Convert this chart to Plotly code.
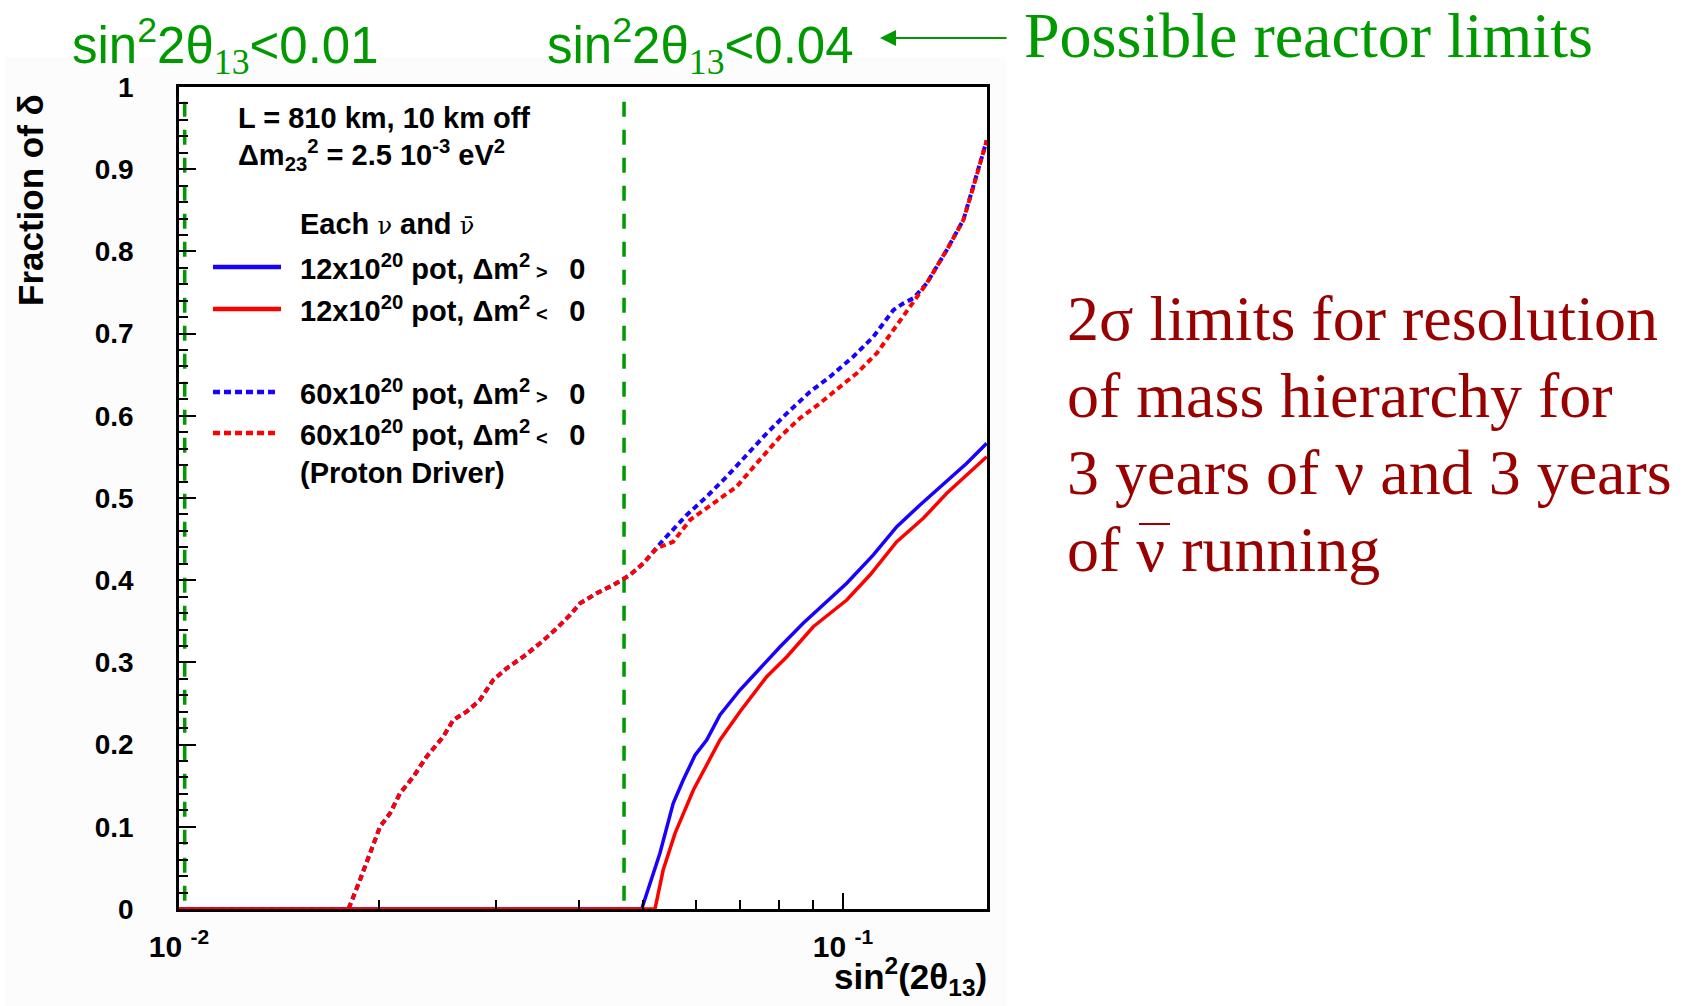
import plotly.graph_objects as go

# ---------------- data ----------------
# 60x10^20 pot, dm^2 < 0 (red dotted)
x_dot_red = [0.0100, 0.0180, 0.01873, 0.0194, 0.02008, 0.02079, 0.02152, 0.02254, 0.0236, 0.0250,
             0.02588, 0.02711, 0.02839, 0.02973, 0.03115, 0.0330, 0.03497, 0.03706, 0.03881, 0.04018,
             0.04256, 0.04509, 0.04777, 0.05004, 0.05241, 0.0555, 0.05883, 0.06379, 0.06915, 0.07413,
             0.0804, 0.0861, 0.0923, 0.0990, 0.1049, 0.1124, 0.1191, 0.1262, 0.1337, 0.1433,
             0.1518, 0.1572, 0.1636, 0.1646]
y_dot_red = [0.0, 0.0, 0.0353, 0.0678, 0.1001, 0.1164, 0.1407, 0.161, 0.1853, 0.2096,
             0.2299, 0.2400, 0.2543, 0.2786, 0.2928, 0.3069, 0.3232, 0.3415, 0.3577, 0.3719,
             0.3841, 0.3942, 0.4063, 0.4206, 0.4388, 0.4468, 0.4732, 0.4935, 0.5137, 0.5422,
             0.5746, 0.5970, 0.6152, 0.6354, 0.6517, 0.6760, 0.7044, 0.7327, 0.7612, 0.8017,
             0.8382, 0.8787, 0.9274, 0.9350]

# 60x10^20 pot, dm^2 > 0 (blue dotted)
x_dot_blue = [0.0100, 0.0180, 0.01873, 0.0194, 0.02008, 0.02079, 0.02152, 0.02254, 0.0236, 0.0250,
              0.02588, 0.02711, 0.02839, 0.02973, 0.03115, 0.0330, 0.03497, 0.03706, 0.03881, 0.04018,
              0.04256, 0.04509, 0.04777, 0.05004, 0.05362, 0.05816, 0.06233, 0.06679, 0.07157, 0.07675,
              0.0823, 0.0892, 0.0956, 0.1036, 0.1111, 0.1191, 0.1233, 0.1276, 0.1337, 0.1433,
              0.1518, 0.1572, 0.1636, 0.1646]
y_dot_blue = [0.0, 0.0, 0.0353, 0.0678, 0.1001, 0.1164, 0.1407, 0.161, 0.1853, 0.2096,
              0.2299, 0.2400, 0.2543, 0.2786, 0.2928, 0.3069, 0.3232, 0.3415, 0.3577, 0.3719,
              0.3841, 0.3942, 0.4063, 0.4206, 0.4489, 0.4793, 0.5016, 0.5259, 0.5523, 0.5787,
              0.6030, 0.6293, 0.6476, 0.6719, 0.6962, 0.7287, 0.7368, 0.7430, 0.7612, 0.8017,
              0.8382, 0.8787, 0.9274, 0.9350]

# 12x10^20 pot, dm^2 > 0 (blue solid)
x_sol_blue = [0.0100, 0.04975, 0.0530, 0.0555, 0.05746, 0.05986, 0.06233, 0.06527, 0.06995, 0.0750,
              0.0804, 0.0871, 0.0945, 0.1013, 0.1111, 0.1205, 0.1306, 0.1433, 0.1536, 0.1646]
y_sol_blue = [0.0, 0.0, 0.0678, 0.1286, 0.157, 0.187, 0.2056, 0.236, 0.2664, 0.2928,
              0.319, 0.3476, 0.3739, 0.3962, 0.4307, 0.4651, 0.4915, 0.5198, 0.5422, 0.5665]

# 12x10^20 pot, dm^2 < 0 (red solid)
x_sol_red = [0.0100, 0.0521, 0.0536, 0.05585, 0.05952, 0.06527, 0.06995, 0.07675, 0.0823, 0.0902,
             0.1013, 0.1098, 0.1205, 0.1321, 0.1433, 0.1536, 0.1646]
y_sol_red = [0.0, 0.0, 0.0474, 0.092, 0.1448, 0.2056, 0.2400, 0.2826, 0.3069, 0.3434,
             0.3759, 0.4063, 0.4468, 0.4753, 0.5057, 0.5280, 0.5502]

# possible reactor limits (vertical dashed lines)
reactor_x = [0.0102, 0.0468]
reactor_y = [0.01, 0.985]
SUB13 = "<sub style=\"font-family:Liberation Serif\">13</sub>"
reactor_labels = ["sin<sup>2</sup>2θ" + SUB13 + "&lt;0.01",
                  "sin<sup>2</sup>2θ" + SUB13 + "&lt;0.04"]

x_tickvals = [0.01, 0.1]
x_ticktext = ["10 <sup>-2</sup>", "10 <sup>-1</sup>"]
x_minor_ticks = [0.02, 0.03, 0.04, 0.05, 0.06, 0.07, 0.08, 0.09]

legend_entries = [
    "12x10<sup>20</sup> pot, Δm<sup>2</sup><span style=\"font-size:20px\"> &gt; </span>  0",
    "12x10<sup>20</sup> pot, Δm<sup>2</sup><span style=\"font-size:20px\"> &lt; </span>  0",
    "60x10<sup>20</sup> pot, Δm<sup>2</sup><span style=\"font-size:20px\"> &gt; </span>  0",
    "60x10<sup>20</sup> pot, Δm<sup>2</sup><span style=\"font-size:20px\"> &lt; </span>  0",
]
side_lines = ["2σ limits for resolution",
              "of mass hierarchy for",
              "3 years of ν and 3 years",
              "of ν running"]

# ---------------- styling ----------------
W, H = 1694, 1006
L, R, T, B = 179, 707, 87, 97
PW, PH = W - L - R, H - T - B
DEC = 664.0  # px per decade
x_range = [-2, -2 + PW / DEC]

BLUE = "#1a00ff"
RED = "#ff0000"
GREEN = "#009900"
DARKRED = "#990000"
SANS = "Liberation Sans, Arial, sans-serif"
SERIF = "Liberation Serif, Times New Roman, serif"


def fx(px):
    return (px - L) / PW


def fy(py):
    return (H - B - py) / PH


fig = go.Figure()

for xv in reactor_x:
    fig.add_trace(go.Scatter(x=[xv, xv], y=reactor_y, mode="lines",
                             line=dict(color=GREEN, width=3.5, dash="15px,13px"),
                             showlegend=False, hoverinfo="skip"))

fig.add_trace(go.Scatter(x=x_dot_blue, y=y_dot_blue, mode="lines",
                         line=dict(color=BLUE, width=4, dash="6px,4px"), showlegend=False))
fig.add_trace(go.Scatter(x=x_dot_red, y=y_dot_red, mode="lines",
                         line=dict(color=RED, width=4, dash="6px,4px"), showlegend=False))
fig.add_trace(go.Scatter(x=x_sol_blue, y=y_sol_blue, mode="lines",
                         line=dict(color=BLUE, width=3.5), showlegend=False))
fig.add_trace(go.Scatter(x=x_sol_red, y=y_sol_red, mode="lines",
                         line=dict(color=RED, width=3.5), showlegend=False))

shapes = [
    dict(type="rect", xref="paper", yref="paper", x0=fx(5), x1=fx(1007), y0=fy(1006), y1=fy(57),
         fillcolor="#fcfcfc", line=dict(width=0), layer="below"),
    dict(type="rect", xref="paper", yref="paper", x0=0, x1=1, y0=0, y1=1,
         fillcolor="white", line=dict(width=0), layer="below"),
    # overline of anti-neutrino in the side text
    dict(type="line", xref="paper", yref="paper", x0=fx(1139), x1=fx(1170), y0=fy(524), y1=fy(524),
         line=dict(color=DARKRED, width=2)),
]
# legend samples
legend_y = [267, 309, 392, 433]
legend_styles = [(BLUE, "solid", 281), (RED, "solid", 281), (BLUE, "dot", 278), (RED, "dot", 278)]
for yy, (col, st, xe) in zip(legend_y, legend_styles):
    shapes.append(dict(type="line", xref="paper", yref="paper", x0=fx(213), x1=fx(xe),
                       y0=fy(yy), y1=fy(yy),
                       line=dict(color=col, width=4.5, dash=("solid" if st == "solid" else "7px,4px"))))

annotations = []
lab_font = dict(family=SANS, size=29, color="black", weight="bold")

annotations.append(dict(text="L = 810 km, 10 km off", x=fx(236), y=fy(118), xref="paper", yref="paper",
                        xanchor="left", yanchor="middle", showarrow=False, font=lab_font))
annotations.append(dict(text="Δm<sub>23</sub><sup>2</sup> = 2.5 10<sup>-3</sup> eV<sup>2</sup>",
                        x=fx(236), y=fy(155), xref="paper", yref="paper",
                        xanchor="left", yanchor="middle", showarrow=False, font=lab_font))
annotations.append(dict(text="Each <span style=\"font-family:DejaVu Serif;font-weight:normal;font-size:24px\">ν</span> and "
                             "<span style=\"font-family:DejaVu Serif;font-weight:normal;font-size:24px\">ν\u0304</span>",
                        x=fx(298), y=fy(224), xref="paper", yref="paper",
                        xanchor="left", yanchor="middle", showarrow=False, font=lab_font))
for yy, txt in zip(legend_y, legend_entries):
    annotations.append(dict(text=txt, x=fx(298), y=fy(yy), xref="paper", yref="paper",
                            xanchor="left", yanchor="middle", showarrow=False, font=lab_font))
annotations.append(dict(text="(Proton Driver)", x=fx(298), y=fy(473), xref="paper", yref="paper",
                        xanchor="left", yanchor="middle", showarrow=False, font=lab_font))

# green reactor-limit labels
for xl, txt in zip([70, 545], reactor_labels):
    annotations.append(dict(text=txt, x=fx(xl), y=fy(46), xref="paper", yref="paper",
                            xanchor="left", yanchor="middle", showarrow=False,
                            font=dict(family=SANS, size=51, color=GREEN)))
# arrow
annotations.append(dict(text="", x=fx(880), y=fy(38), xref="paper", yref="paper",
                        ax=128, ay=0, showarrow=True, arrowhead=2, arrowsize=1.6,
                        arrowwidth=2, arrowcolor=GREEN, standoff=0))
annotations.append(dict(text="Possible reactor limits", x=fx(1022), y=fy(36), xref="paper", yref="paper",
                        xanchor="left", yanchor="middle", showarrow=False,
                        font=dict(family=SERIF, size=64, color=GREEN)))
for i, line in enumerate(side_lines):
    annotations.append(dict(text=line, x=fx(1065), y=fy(318 + 77 * i), xref="paper", yref="paper",
                            xanchor="left", yanchor="middle", showarrow=False,
                            font=dict(family=SERIF, size=64, color=DARKRED)))

# axis titles
annotations.append(dict(text="Fraction of δ", x=fx(30), y=fy(92), xref="paper", yref="paper",
                        xanchor="center", yanchor="top", textangle=-90, showarrow=False,
                        font=dict(family=SANS, size=35, color="black", weight="bold")))
annotations.append(dict(text="sin<sup>2</sup>(2θ<sub>13</sub>)", x=fx(989), y=fy(1003), xref="paper", yref="paper",
                        xanchor="right", yanchor="bottom", showarrow=False,
                        font=dict(family=SANS, size=35, color="black", weight="bold")))

fig.update_layout(
    width=W, height=H,
    margin=dict(l=L, r=R, t=T, b=B, pad=0),
    paper_bgcolor="white", plot_bgcolor="white",
    shapes=shapes, annotations=annotations,
    showlegend=False,
)
fig.update_xaxes(type="log", range=x_range, showgrid=False, zeroline=False,
                 showline=True, mirror=True, linecolor="black", linewidth=2.5,
                 ticks="inside", ticklen=16, tickwidth=1.5, tickcolor="black",
                 tickvals=x_tickvals, ticktext=x_ticktext, ticklabelstandoff=9,
                 tickfont=dict(family=SANS, size=30, color="black", weight="bold"),
                 minor=dict(tickvals=x_minor_ticks, ticks="inside", ticklen=9, tickwidth=1.5,
                            tickcolor="black", showgrid=False))
fig.update_yaxes(range=[0, 1], dtick=0.1, showgrid=False, zeroline=False,
                 showline=True, mirror=True, linecolor="black", linewidth=2.5,
                 ticks="inside", ticklen=17, tickwidth=1.5, tickcolor="black",
                 ticklabelstandoff=37,
                 tickfont=dict(family=SANS, size=28, color="black", weight="bold"),
                 minor=dict(dtick=0.02, ticks="inside", ticklen=9, tickwidth=1.5,
                            tickcolor="black", showgrid=False))

fig.write_html("out.html")
